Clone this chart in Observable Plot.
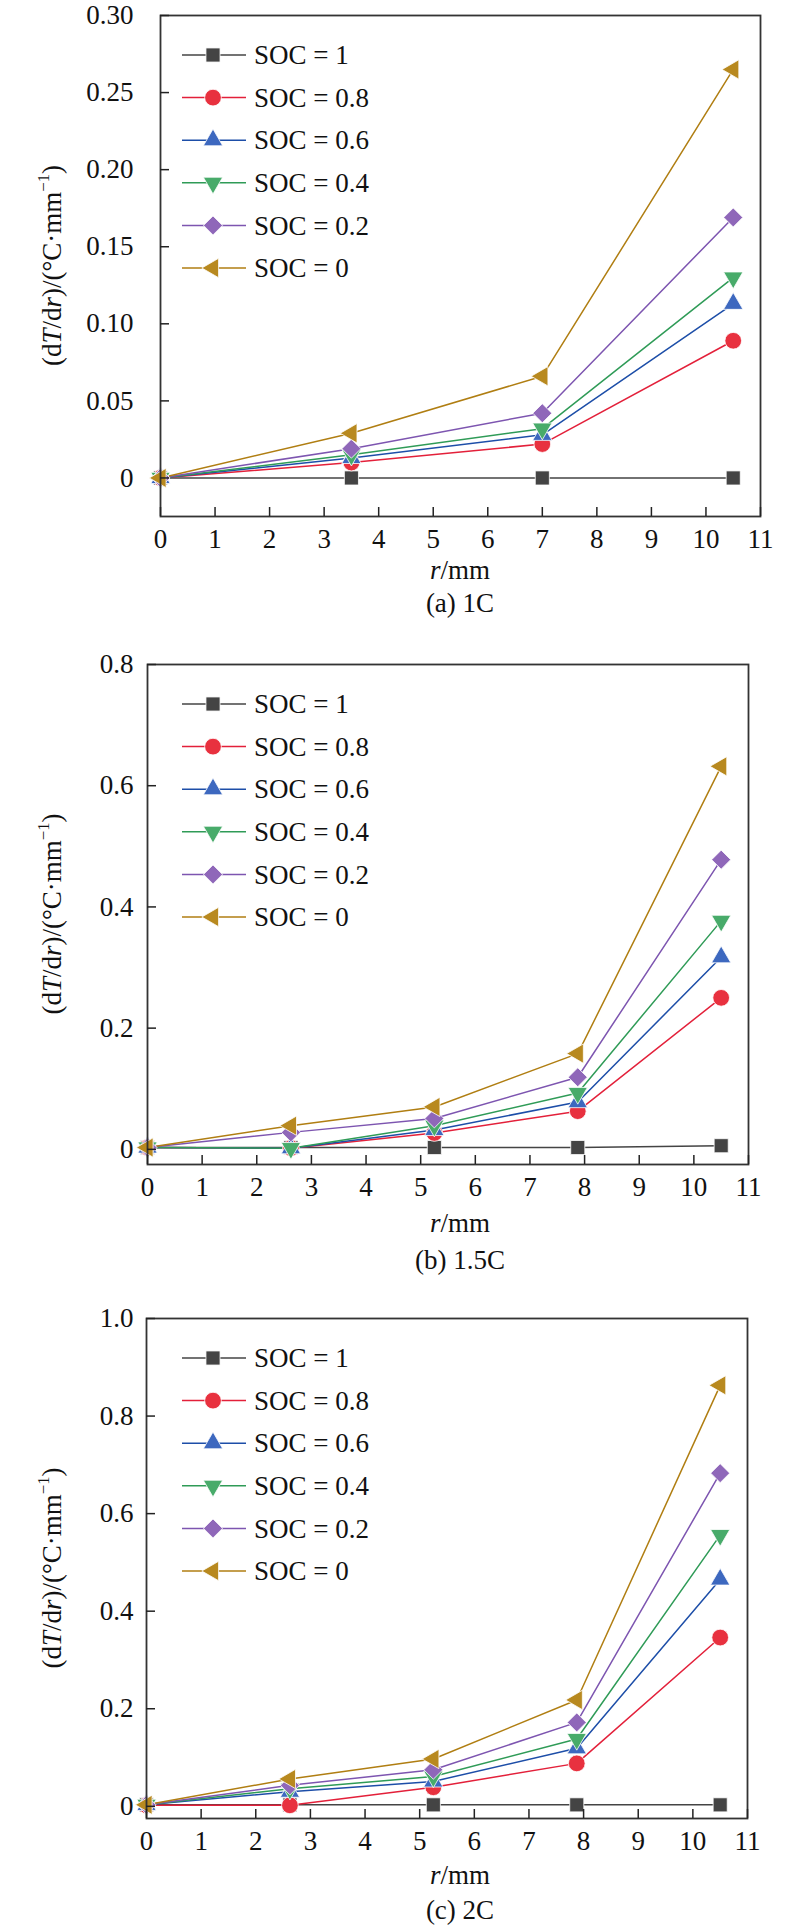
<!DOCTYPE html>
<html><head><meta charset="utf-8">
<script src="https://cdn.jsdelivr.net/npm/d3@7"></script>
<script src="https://cdn.jsdelivr.net/npm/@observablehq/plot@0.6"></script>
<style>
body{margin:0;background:#fff}
#chart{width:800px}
#chart svg{display:block}
</style>
</head><body><div id="chart"></div>
<script>
// ---------- data ----------
const socLabels = ["SOC = 1", "SOC = 0.8", "SOC = 0.6", "SOC = 0.4", "SOC = 0.2", "SOC = 0"];
const xTicks = [0,1,2,3,4,5,6,7,8,9,10,11];

// (a) 1C
const r_1C = [0, 3.5, 7, 10.5];
const dTdr_1C = [
  [0, 0, 0, 0],
  [0, 0.010, 0.022, 0.089],
  [0, 0.013, 0.028, 0.113],
  [0, 0.015, 0.032, 0.130],
  [0, 0.019, 0.042, 0.169],
  [0, 0.029, 0.066, 0.265]
];
const yTicks_1C = [0, 0.05, 0.10, 0.15, 0.20, 0.25, 0.30];

// (b) 1.5C
const r_15C = [0, 2.625, 5.25, 7.875, 10.5];
const dTdr_15C = [
  [0.003, 0.003, 0.003, 0.003, 0.006],
  [0.003, 0.002, 0.027, 0.063, 0.250],
  [0.003, 0.002, 0.032, 0.078, 0.317],
  [0.003, 0.002, 0.039, 0.093, 0.377],
  [0.003, 0.028, 0.051, 0.119, 0.478],
  [0.003, 0.039, 0.070, 0.158, 0.632]
];
const yTicks_15C = [0, 0.2, 0.4, 0.6, 0.8];

// (c) 2C
const r_2C = [0, 2.625, 5.25, 7.875, 10.5];
const dTdr_2C = [
  [0.003, 0.003, 0.003, 0.003, 0.003],
  [0.002, 0.002, 0.039, 0.088, 0.346],
  [0.003, 0.030, 0.051, 0.119, 0.465],
  [0.003, 0.036, 0.061, 0.138, 0.556],
  [0.003, 0.043, 0.075, 0.172, 0.683],
  [0.003, 0.056, 0.097, 0.218, 0.863]
];
const yTicks_2C = [0, 0.2, 0.4, 0.6, 0.8, 1.0];

// ---------- styles ----------
const markerColors = ["#444444", "#e8313f", "#3d68bf", "#48ab6a", "#8f67b9", "#b8891f"];
const lineColors   = ["#444444", "#e3203a", "#1d4ea8", "#2f9b57", "#7d55b0", "#b07e12"];

const rad = s => Math.sqrt(s / Math.PI);
const symSquare = {draw(c, s){ const h = rad(s) * 0.8; c.rect(-h, -h, 2*h, 2*h); }};
const symCircle = {draw(c, s){ const r = rad(s) * 0.95; c.moveTo(r, 0); c.arc(0, 0, r, 0, 2*Math.PI); }};
const triDims = s => { const r = rad(s); const hs = 1.1 * r; const h = 2 * hs * 0.866; return [hs, h]; };
const symTriUp = {draw(c, s){ const [hs, h] = triDims(s); c.moveTo(0, -2*h/3); c.lineTo(hs, h/3); c.lineTo(-hs, h/3); c.closePath(); }};
const symTriDown = {draw(c, s){ const [hs, h] = triDims(s); c.moveTo(0, 2*h/3); c.lineTo(hs, -h/3); c.lineTo(-hs, -h/3); c.closePath(); }};
const symDiamond = {draw(c, s){ const d = rad(s) * 1.08; c.moveTo(0, -d); c.lineTo(d, 0); c.lineTo(0, d); c.lineTo(-d, 0); c.closePath(); }};
const symTriLeft = {draw(c, s){ const [hs, h] = triDims(s); c.moveTo(-2*h/3, 0); c.lineTo(h/3, -hs); c.lineTo(h/3, hs); c.closePath(); }};
const symbols = [symSquare, symCircle, symTriUp, symTriDown, symDiamond, symTriLeft];
const R = 8.8;

const FONT = "'Liberation Serif', 'Times New Roman', serif";
const FS = 27;

function makePanel({xs, vals, yTop, yTicks, fmt, height, mt, mb, ml, mr, tickPad, xLabelY, captionY, caption}) {
  const rows = [];
  vals.forEach((arr, i) => arr.forEach((v, j) => rows.push({soc: socLabels[i], i, r: xs[j], v})));
  const marks = [];
  socLabels.forEach((s, i) => {
    marks.push(Plot.lineY(rows.filter(d => d.i === i), {x: "r", y: "v", stroke: lineColors[i], strokeWidth: 1.5}));
  });
  socLabels.forEach((s, i) => {
    marks.push(Plot.dot(rows.filter(d => d.i === i), {x: "r", y: "v", symbol: symbols[i], fill: markerColors[i], stroke: "white", strokeWidth: 0.8, r: R}));
  });
  marks.push(Plot.frame({stroke: "#333", strokeWidth: 1.8}));
  marks.push(Plot.axisX(xTicks, {tickSize: 0, tickPadding: 12, label: null, fill: "#111"}));
  marks.push(Plot.axisX(xTicks, {tickSize: 9, dy: -9, tickFormat: () => "", label: null, stroke: "#222", strokeWidth: 1.5}));
  marks.push(Plot.axisY(yTicks, {tickSize: 0, tickPadding: tickPad, tickFormat: fmt, label: null, fill: "#111"}));
  marks.push(Plot.axisY(yTicks, {tickSize: 9, dx: 9, tickFormat: () => "", label: null, stroke: "#222", strokeWidth: 1.5}));

  const plot = Plot.plot({
    width: 800, height,
    marginTop: mt, marginBottom: mb, marginLeft: ml, marginRight: mr,
    style: {fontFamily: FONT, fontSize: FS + "px", background: "white", color: "#111"},
    x: {domain: [0, 11]},
    y: {domain: [-0.025, yTop]},
    marks
  });

  const svg = d3.select(plot);
  const fTop = mt, fBot = height - mb;
  // legend
  const lg = svg.append("g").attr("text-anchor", "start");
  socLabels.forEach((s, i) => {
    const y = fTop + 40 + i * 42.6;
    lg.append("line").attr("x1", 182).attr("x2", 246).attr("y1", y).attr("y2", y)
      .attr("stroke", lineColors[i]).attr("stroke-width", 1.5);
    lg.append("path").attr("transform", `translate(213,${y})`)
      .attr("d", d3.symbol(symbols[i], Math.PI * R * R)())
      .attr("fill", markerColors[i]).attr("stroke", "white").attr("stroke-width", 0.8);
    lg.append("text").attr("x", 254).attr("y", y).attr("dy", "0.34em").attr("text-anchor", "start")
      .attr("font-family", FONT).attr("font-size", FS).attr("fill", "#111").text(s);
  });
  // y label
  const yl = svg.append("text")
    .attr("transform", `translate(52,${(fTop + fBot) / 2}) rotate(-90)`)
    .attr("text-anchor", "middle").attr("dy", "0.34em")
    .attr("font-family", FONT).attr("font-size", FS).attr("fill", "#111");
  yl.append("tspan").text("(d");
  yl.append("tspan").attr("font-style", "italic").text("T");
  yl.append("tspan").text("/d");
  yl.append("tspan").attr("font-style", "italic").text("r");
  yl.append("tspan").text(")/(°C·mm");
  yl.append("tspan").attr("font-size", FS * 0.62).attr("dy", "-0.75em").text("−1");
  yl.append("tspan").attr("dy", "0.47em").text(")");
  // x label
  const xl = svg.append("text").attr("x", 460).attr("y", xLabelY).attr("dy", "0.34em")
    .attr("text-anchor", "middle").attr("font-family", FONT).attr("font-size", FS).attr("fill", "#111");
  xl.append("tspan").attr("font-style", "italic").text("r");
  xl.append("tspan").text("/mm");
  // caption
  svg.append("text").attr("x", 460).attr("y", captionY).attr("dy", "0.34em")
    .attr("text-anchor", "middle").attr("font-family", FONT).attr("font-size", FS).attr("fill", "#111")
    .text(caption);
  return plot;
}

const fmt2 = d => d === 0 ? "0" : d.toFixed(2);
const fmt1 = d => d === 0 ? "0" : d.toFixed(1);
const chart = document.getElementById("chart");
chart.appendChild(makePanel({xs: r_1C, vals: dTdr_1C, yTop: 0.30, yTicks: yTicks_1C, fmt: fmt2,
  height: 640, mt: 15, mb: 124, ml: 160, mr: 40, tickPad: 27, xLabelY: 570, captionY: 603, caption: "(a) 1C"}));
chart.appendChild(makePanel({xs: r_15C, vals: dTdr_15C, yTop: 0.8, yTicks: yTicks_15C, fmt: fmt1,
  height: 650, mt: 24, mb: 126, ml: 147, mr: 52, tickPad: 14, xLabelY: 583, captionY: 620, caption: "(b) 1.5C"}));
chart.appendChild(makePanel({xs: r_2C, vals: dTdr_2C, yTop: 1.0, yTicks: yTicks_2C, fmt: fmt1,
  height: 637, mt: 28, mb: 109, ml: 146, mr: 53, tickPad: 13, xLabelY: 585, captionY: 620, caption: "(c) 2C"}));
</script>
</body></html>
